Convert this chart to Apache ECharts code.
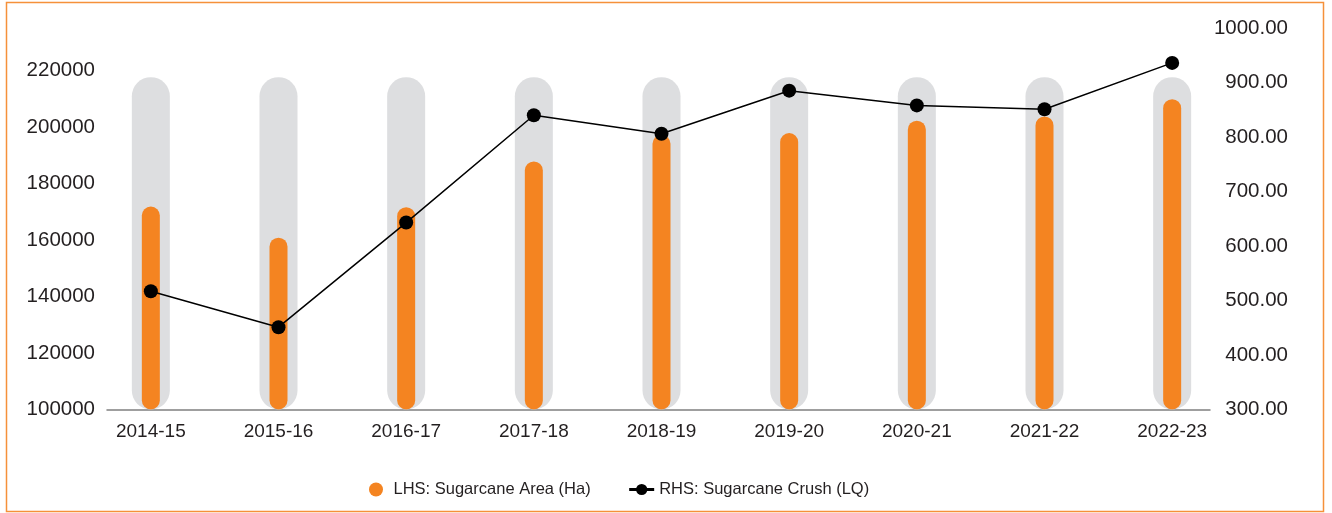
<!DOCTYPE html>
<html>
<head>
<meta charset="utf-8">
<title>Sugarcane Area and Crush</title>
<script src="https://cdn.jsdelivr.net/npm/echarts@6/dist/echarts.min.js"></script>
<style>
  html, body { margin: 0; padding: 0; background: #ffffff; }
  #chart { width: 1332px; height: 513px; }
</style>
</head>
<body>
<div id="chart"></div>
<script>
// Seasons on the category axis
const seasons = ['2014-15', '2015-16', '2016-17', '2017-18', '2018-19', '2019-20', '2020-21', '2021-22', '2022-23'];
// LHS: sugarcane area in hectares
const areaHa = [171800, 160800, 171600, 187800, 197200, 197800, 202200, 203700, 209800];
// RHS: sugarcane crush in lakh quintals
const crushLQ = [517, 451, 643, 840, 806, 885, 858, 851, 936];
// Grey pill track drawn behind every area bar
const trackHa = [217600, 217600, 217600, 217600, 217600, 217600, 217600, 217600, 217600];
// Tick labels
const leftTicks = [100000, 120000, 140000, 160000, 180000, 200000, 220000];
const rightTicks = [300, 400, 500, 600, 700, 800, 900, 1000];

const FONT = "'Liberation Sans', Arial, sans-serif";
const ORANGE = '#f48421';
const TRACK = '#dddee0';
const TEXT = '#231f20';

const areaRange = { min: 100000, max: 235000 };
const crushRange = { min: 300, max: 1000 };

const chart = echarts.init(document.getElementById('chart'), null, { renderer: 'canvas' });

const option = {
  animation: false,
  backgroundColor: '#ffffff',
  textStyle: { fontFamily: FONT },
  graphic: [{
    type: 'rect',
    shape: { x: 6.5, y: 2.5, width: 1317, height: 509 },
    style: { fill: 'none', stroke: '#f5913a', lineWidth: 1.5 },
    silent: true,
    z: -10
  }],
  grid: [
    // plot area for the marks
    { left: 87, right: 96, top: 28, bottom: 103.5 },
    // frame used for the baseline and both value scales
    { left: 107, right: 122, top: 28, bottom: 103.5 }
  ],
  legend: {
    left: 364,
    top: 476,
    itemGap: 37,
    itemWidth: 25,
    itemHeight: 14,
    textStyle: { fontFamily: FONT, fontSize: 16.5, color: TEXT },
    lineStyle: { width: 3 },
    data: [
      { name: 'LHS: Sugarcane Area (Ha)', icon: 'circle' },
      { name: 'RHS: Sugarcane Crush (LQ)' }
    ]
  },
  xAxis: [
    {
      gridIndex: 0,
      type: 'category',
      data: seasons,
      boundaryGap: true,
      axisLine: { show: false },
      axisTick: { show: false },
      axisLabel: { fontFamily: FONT, fontSize: 19, color: TEXT, margin: 13 }
    },
    {
      gridIndex: 1,
      type: 'category',
      data: seasons,
      axisLine: { show: true, lineStyle: { color: '#808080', width: 1.5 } },
      axisTick: { show: false },
      axisLabel: { show: false }
    },
    {
      // separate hidden axis so the grey track is centred under each bar
      gridIndex: 0,
      type: 'category',
      data: seasons,
      boundaryGap: true,
      show: false
    }
  ],
  yAxis: [
    { gridIndex: 0, type: 'value', position: 'left', min: areaRange.min, max: areaRange.max, interval: 20000, show: false, splitLine: { show: false } },
    { gridIndex: 0, type: 'value', position: 'right', min: crushRange.min, max: crushRange.max, interval: 100, show: false, splitLine: { show: false } },
    {
      gridIndex: 1,
      type: 'value',
      position: 'left',
      min: areaRange.min,
      max: areaRange.max,
      interval: 20000,
      axisLine: { show: false },
      axisTick: { show: false },
      splitLine: { show: false },
      axisLabel: {
        fontFamily: FONT, fontSize: 20.5, color: TEXT, margin: 12,
        formatter: v => leftTicks.indexOf(v) >= 0 ? String(v) : ''
      }
    },
    {
      gridIndex: 1,
      type: 'value',
      position: 'right',
      min: crushRange.min,
      max: crushRange.max,
      interval: 100,
      axisLine: { show: false },
      axisTick: { show: false },
      splitLine: { show: false },
      axisLabel: {
        fontFamily: FONT, fontSize: 20.5, color: TEXT, margin: 78, align: 'right',
        formatter: v => rightTicks.indexOf(v) >= 0 ? v.toFixed(2) : ''
      }
    }
  ],
  series: [
    {
      name: 'track',
      type: 'bar',
      xAxisIndex: 2,
      yAxisIndex: 0,
      data: trackHa,
      barWidth: 38,
      silent: true,
      itemStyle: { color: TRACK, borderRadius: 19 },
      z: 1
    },
    {
      name: 'LHS: Sugarcane Area (Ha)',
      type: 'bar',
      xAxisIndex: 0,
      yAxisIndex: 0,
      data: areaHa,
      barWidth: 18,
      itemStyle: { color: ORANGE, borderRadius: 9 },
      z: 2
    },
    {
      name: 'RHS: Sugarcane Crush (LQ)',
      type: 'line',
      xAxisIndex: 0,
      yAxisIndex: 1,
      data: crushLQ,
      symbol: 'circle',
      symbolSize: 14,
      itemStyle: { color: '#000000' },
      lineStyle: { color: '#000000', width: 1.5 },
      z: 3
    }
  ]
};

chart.setOption(option);
</script>
</body>
</html>
